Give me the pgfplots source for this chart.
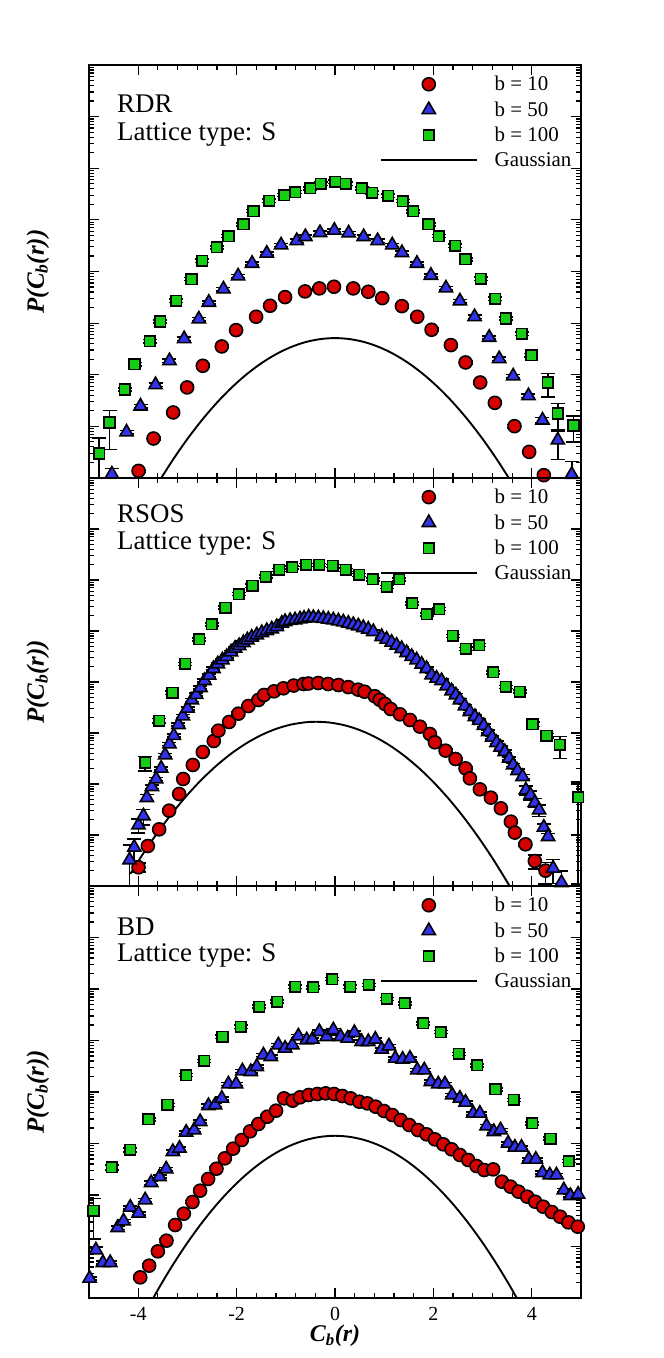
\documentclass[border=0pt]{standalone}
\usepackage{fontspec}
\setmainfont{Liberation Serif}
\usepackage{pgfplots}
\usepackage{pgfplotstable}
\pgfplotsset{compat=1.18}
\definecolor{cred}{RGB}{215,0,0}
\definecolor{cblue}{RGB}{50,50,235}
\definecolor{cgreen}{RGB}{20,205,20}

% ---------- RDR ----------
\pgfplotstableread{
x L r
-3.993 -7.862 0.07
-3.689 -7.235 0.07
-3.289 -6.731 0.07
-3.005 -6.246 0.07
-2.687 -5.827 0.07
-2.301 -5.452 0.07
-2.010 -5.136 0.07
-1.604 -4.877 0.07
-1.320 -4.664 0.07
-1.015 -4.496 0.07
-0.609 -4.386 0.07
-0.318 -4.328 0.07
-0.020 -4.296 0.07
0.372 -4.328 0.07
0.677 -4.393 0.07
0.961 -4.516 0.07
1.360 -4.671 0.07
1.672 -4.877 0.07
1.963 -5.129 0.07
2.355 -5.426 0.07
2.653 -5.762 0.07
2.951 -6.150 0.07
3.249 -6.544 0.07
3.648 -6.996 0.07
3.946 -7.494 0.07
4.244 -7.946 0.07
}\rdrA
\pgfplotstableread{
x L r
-4.535 -7.926 0.29
-4.237 -7.112 0.07
-3.953 -6.609 0.07
-3.648 -6.195 0.07
-3.364 -5.730 0.07
-3.066 -5.304 0.07
-2.768 -4.922 0.07
-2.565 -4.599 0.07
-2.267 -4.341 0.07
-1.970 -4.089 0.07
-1.685 -3.844 0.07
-1.387 -3.649 0.07
-1.096 -3.488 0.07
-0.778 -3.405 0.07
-0.602 -3.327 0.07
-0.305 -3.249 0.07
-0.014 -3.204 0.07
0.277 -3.256 0.07
0.582 -3.327 0.07
0.866 -3.405 0.07
1.164 -3.488 0.07
1.360 -3.637 0.07
1.665 -3.844 0.07
1.949 -4.076 0.07
2.254 -4.322 0.07
2.538 -4.574 0.07
2.836 -4.877 0.07
3.134 -5.277 0.07
3.337 -5.691 0.07
3.621 -6.027 0.07
3.932 -6.408 0.07
4.217 -6.880 0.12
4.528 -7.267 0.58
4.812 -7.932 0.78
}\rdrB
\pgfplotstableread{
x L r
-4.792 -7.525 0.98
-4.582 -6.925 0.70
-4.271 -6.285 0.07
-4.074 -5.795 0.07
-3.763 -5.349 0.07
-3.553 -4.967 0.07
-3.228 -4.567 0.07
-2.917 -4.147 0.07
-2.700 -3.792 0.07
-2.403 -3.533 0.07
-2.166 -3.314 0.07
-1.861 -3.088 0.07
-1.658 -2.829 0.07
-1.340 -2.629 0.07
-1.029 -2.519 0.07
-0.812 -2.461 0.07
-0.508 -2.390 0.07
-0.291 -2.300 0.07
0.007 -2.261 0.07
0.223 -2.300 0.07
0.548 -2.390 0.07
0.758 -2.474 0.07
1.083 -2.532 0.07
1.374 -2.636 0.07
1.591 -2.836 0.07
1.902 -3.088 0.07
2.112 -3.314 0.07
2.443 -3.502 0.07
2.653 -3.766 0.07
2.964 -4.141 0.07
3.255 -4.528 0.07
3.472 -4.910 0.07
3.797 -5.207 0.07
3.993 -5.620 0.07
4.325 -6.150 0.48
4.528 -6.750 0.55
4.846 -6.983 0.52
}\rdrC
\pgfplotstableread{
x L
-3.6 -8.104
-3.3 -7.655
-3.0 -7.244
-2.7 -6.873
-2.4 -6.541
-2.1 -6.248
-1.8 -5.994
-1.5 -5.779
-1.2 -5.603
-0.9 -5.466
-0.6 -5.368
-0.3 -5.310
0.0 -5.290
0.3 -5.310
0.6 -5.368
0.9 -5.466
1.2 -5.603
1.5 -5.779
1.8 -5.994
2.1 -6.248
2.4 -6.541
2.7 -6.873
3.0 -7.244
3.3 -7.655
3.6 -8.104
}\rdrG

% ---------- RSOS ----------
\pgfplotstableread{
x L r
-3.993 -7.634 0.20
-3.804 -7.216 0.07
-3.574 -6.889 0.07
-3.371 -6.523 0.07
-3.168 -6.196 0.07
-3.086 -5.902 0.07
-2.890 -5.627 0.07
-2.687 -5.373 0.07
-2.464 -5.157 0.07
-2.369 -4.954 0.07
-2.152 -4.784 0.07
-1.963 -4.621 0.07
-1.760 -4.471 0.07
-1.557 -4.353 0.07
-1.442 -4.255 0.07
-1.239 -4.183 0.07
-1.049 -4.124 0.07
-0.840 -4.070 0.07
-0.640 -4.040 0.07
-0.540 -4.030 0.07
-0.340 -4.020 0.07
-0.140 -4.040 0.07
0.070 -4.060 0.07
0.270 -4.100 0.07
0.470 -4.150 0.07
0.600 -4.190 0.07
0.810 -4.280 0.07
0.910 -4.350 0.07
1.015 -4.431 0.07
1.130 -4.529 0.07
1.320 -4.634 0.07
1.523 -4.745 0.07
1.726 -4.876 0.07
1.929 -5.020 0.07
2.030 -5.183 0.07
2.247 -5.346 0.07
2.450 -5.510 0.07
2.653 -5.693 0.07
2.741 -5.889 0.07
2.944 -6.105 0.07
3.168 -6.268 0.07
3.371 -6.477 0.07
3.574 -6.739 0.07
3.655 -6.954 0.07
3.871 -7.183 0.07
4.061 -7.510 0.30
4.278 -7.699 0.45
}\rsosA
\pgfplotstableread{
x L r
-4.176 -7.490 0.98
-4.081 -7.242 0.45
-3.994 -6.804 0.30
-3.893 -6.627 0.34
-3.824 -6.268 0.15
-3.722 -6.053 0.07
-3.635 -5.902 0.07
-3.533 -5.693 0.07
-3.452 -5.431 0.07
-3.364 -5.216 0.07
-3.276 -5.052 0.07
-3.181 -4.837 0.07
-3.093 -4.667 0.07
-2.998 -4.516 0.07
-2.910 -4.353 0.07
-2.822 -4.248 0.07
-2.734 -4.111 0.07
-2.653 -3.974 0.07
-2.558 -3.869 0.07
-2.470 -3.739 0.07
-2.382 -3.647 0.07
-2.288 -3.569 0.07
-2.200 -3.503 0.07
-2.112 -3.412 0.07
-2.030 -3.340 0.07
-1.949 -3.288 0.07
-1.862 -3.229 0.07
-1.781 -3.176 0.07
-1.692 -3.124 0.07
-1.590 -3.078 0.07
-1.488 -3.033 0.07
-1.387 -2.994 0.07
-1.285 -2.961 0.07
-1.184 -2.916 0.07
-1.082 -2.850 0.07
-1.015 -2.817 0.07
-0.914 -2.797 0.07
-0.812 -2.784 0.07
-0.711 -2.765 0.07
-0.629 -2.752 0.07
-0.535 -2.732 0.07
-0.440 -2.739 0.07
-0.338 -2.745 0.07
-0.237 -2.758 0.07
-0.136 -2.771 0.07
-0.034 -2.784 0.07
0.068 -2.804 0.07
0.169 -2.824 0.07
0.271 -2.850 0.07
0.372 -2.876 0.07
0.474 -2.902 0.07
0.575 -2.935 0.07
0.677 -2.967 0.07
0.778 -3.013 0.07
0.948 -3.111 0.07
1.049 -3.163 0.07
1.151 -3.222 0.07
1.252 -3.281 0.07
1.354 -3.347 0.07
1.455 -3.425 0.07
1.557 -3.503 0.07
1.658 -3.569 0.07
1.760 -3.653 0.07
1.862 -3.739 0.07
1.963 -3.863 0.07
2.065 -3.928 0.07
2.166 -3.974 0.07
2.268 -4.078 0.07
2.369 -4.176 0.07
2.457 -4.255 0.07
2.538 -4.353 0.07
2.640 -4.471 0.07
2.741 -4.582 0.07
2.843 -4.680 0.07
2.930 -4.758 0.07
3.025 -4.856 0.07
3.113 -4.974 0.07
3.194 -5.085 0.07
3.283 -5.190 0.07
3.364 -5.281 0.07
3.452 -5.366 0.07
3.540 -5.497 0.07
3.621 -5.627 0.07
3.709 -5.739 0.07
3.811 -5.857 0.10
3.878 -6.118 0.20
3.973 -6.216 0.20
4.061 -6.366 0.20
4.148 -6.510 0.25
4.244 -6.850 0.15
4.331 -7.033 0.15
4.433 -7.653 0.50
4.603 -7.935 0.70
}\rsosB
\pgfplotstableread{
x L r
-3.858 -5.582 0.32
-3.574 -4.759 0.10
-3.304 -4.210 0.07
-3.046 -3.647 0.07
-2.761 -3.163 0.07
-2.504 -2.869 0.07
-2.227 -2.543 0.07
-1.955 -2.275 0.07
-1.679 -2.112 0.07
-1.407 -1.935 0.07
-1.137 -1.804 0.07
-0.867 -1.751 0.07
-0.589 -1.706 0.07
-0.319 -1.706 0.07
-0.047 -1.725 0.07
0.217 -1.804 0.07
0.493 -1.902 0.07
0.765 -1.986 0.07
1.050 -2.137 0.07
1.306 -1.986 0.07
1.570 -2.457 0.07
1.862 -2.673 0.07
2.118 -2.569 0.07
2.390 -3.098 0.07
2.660 -3.353 0.07
2.930 -3.275 0.07
3.214 -3.810 0.07
3.472 -4.098 0.07
3.756 -4.190 0.07
4.014 -4.829 0.10
4.299 -5.053 0.10
4.569 -5.235 0.46
4.940 -6.261 0.98
}\rsosC
\pgfplotstableread{
x L
-4.16 -7.762
-3.9 -7.366
-3.6 -6.944
-3.3 -6.560
-3.0 -6.213
-2.7 -5.903
-2.4 -5.632
-2.1 -5.397
-1.8 -5.201
-1.5 -5.042
-1.2 -4.920
-0.9 -4.836
-0.6 -4.790
-0.38 -4.780
-0.1 -4.796
0.2 -4.850
0.5 -4.942
0.8 -5.071
1.1 -5.237
1.4 -5.441
1.7 -5.683
2.0 -5.962
2.3 -6.279
2.6 -6.633
2.9 -7.025
3.2 -7.455
3.5 -7.922
3.7 -8.254
}\rsosG

% ---------- BD ----------
\pgfplotstableread{
x L r
-3.959 -7.599 0.07
-3.777 -7.372 0.07
-3.601 -7.094 0.07
-3.425 -6.887 0.07
-3.249 -6.583 0.07
-3.073 -6.363 0.07
-2.897 -6.136 0.07
-2.741 -5.916 0.07
-2.579 -5.689 0.07
-2.409 -5.489 0.07
-2.240 -5.288 0.07
-2.071 -5.100 0.07
-1.895 -4.932 0.07
-1.726 -4.764 0.07
-1.557 -4.621 0.07
-1.374 -4.479 0.07
-1.198 -4.363 0.07
-1.036 -4.123 0.07
-0.860 -4.168 0.07
-0.711 -4.103 0.07
-0.535 -4.058 0.07
-0.359 -4.039 0.07
-0.190 -4.026 0.07
-0.020 -4.039 0.07
0.149 -4.078 0.07
0.318 -4.123 0.07
0.494 -4.188 0.07
0.657 -4.220 0.07
0.826 -4.285 0.07
0.995 -4.369 0.07
1.164 -4.447 0.07
1.333 -4.544 0.07
1.509 -4.641 0.07
1.685 -4.738 0.07
1.861 -4.822 0.07
2.030 -4.919 0.07
2.200 -5.016 0.07
2.369 -5.113 0.07
2.538 -5.223 0.07
2.707 -5.320 0.07
2.876 -5.437 0.07
3.032 -5.515 0.07
3.215 -5.502 0.07
3.391 -5.741 0.07
3.567 -5.838 0.07
3.729 -5.935 0.07
3.905 -6.032 0.07
4.068 -6.130 0.07
4.230 -6.227 0.07
4.406 -6.330 0.07
4.575 -6.421 0.07
4.744 -6.531 0.07
4.934 -6.615 0.07
}\bdA
\pgfplotstableread{
x L r
-4.988 -7.618 0.07
-4.860 -7.068 0.15
-4.717 -7.314 0.07
-4.569 -7.314 0.07
-4.420 -6.635 0.07
-4.298 -6.505 0.07
-4.162 -6.239 0.07
-3.993 -6.356 0.07
-3.858 -6.097 0.07
-3.736 -5.761 0.07
-3.567 -5.644 0.07
-3.431 -5.495 0.07
-3.296 -5.159 0.07
-3.161 -5.094 0.07
-3.025 -4.783 0.07
-2.863 -4.738 0.07
-2.741 -4.576 0.07
-2.572 -4.266 0.07
-2.437 -4.252 0.07
-2.301 -4.123 0.07
-2.166 -3.845 0.07
-2.010 -3.845 0.07
-1.882 -3.592 0.07
-1.712 -3.605 0.07
-1.591 -3.508 0.07
-1.455 -3.282 0.07
-1.306 -3.314 0.07
-1.151 -3.087 0.07
-1.015 -3.152 0.07
-0.866 -3.087 0.07
-0.745 -2.913 0.07
-0.575 -2.990 0.07
-0.460 -2.977 0.07
-0.318 -2.829 0.07
-0.169 -2.926 0.07
-0.034 -2.796 0.07
0.115 -2.926 0.07
0.257 -2.958 0.07
0.393 -2.848 0.07
0.541 -3.023 0.07
0.677 -3.023 0.07
0.819 -2.977 0.07
0.948 -3.172 0.07
1.096 -3.107 0.07
1.225 -3.346 0.07
1.374 -3.365 0.07
1.523 -3.346 0.07
1.672 -3.573 0.07
1.814 -3.573 0.07
1.949 -3.799 0.07
2.098 -3.845 0.07
2.234 -3.845 0.07
2.382 -4.058 0.07
2.538 -4.123 0.07
2.653 -4.200 0.07
2.809 -4.414 0.07
2.944 -4.414 0.07
3.080 -4.660 0.07
3.228 -4.770 0.07
3.364 -4.738 0.07
3.519 -4.996 0.07
3.655 -5.074 0.07
3.790 -5.074 0.07
3.939 -5.307 0.07
4.081 -5.307 0.07
4.217 -5.566 0.07
4.365 -5.612 0.07
4.501 -5.612 0.07
4.650 -5.903 0.07
4.785 -6.013 0.07
4.941 -5.987 0.07
}\bdB
\pgfplotstableread{
x L r
-4.907 -6.305 0.72
-4.535 -5.463 0.10
-4.162 -5.126 0.08
-3.790 -4.531 0.07
-3.404 -4.252 0.07
-3.025 -3.670 0.07
-2.660 -3.398 0.07
-2.288 -2.926 0.07
-1.915 -2.732 0.07
-1.543 -2.343 0.07
-1.178 -2.246 0.07
-0.812 -1.955 0.07
-0.440 -1.968 0.07
-0.061 -1.806 0.07
0.311 -1.955 0.07
0.684 -1.922 0.07
1.049 -2.194 0.07
1.421 -2.278 0.07
1.794 -2.666 0.07
2.152 -2.835 0.07
2.518 -3.262 0.07
2.890 -3.482 0.07
3.262 -3.948 0.07
3.635 -4.155 0.07
4.007 -4.608 0.07
4.379 -4.906 0.07
4.751 -5.340 0.07
}\bdC
\pgfplotstableread{
x L
-3.9 -8.360
-3.6 -7.841
-3.3 -7.363
-3.0 -6.927
-2.7 -6.533
-2.4 -6.179
-2.1 -5.868
-1.8 -5.598
-1.5 -5.369
-1.2 -5.182
-0.9 -5.037
-0.6 -4.933
-0.3 -4.871
0.0 -4.850
0.3 -4.871
0.6 -4.933
0.9 -5.037
1.2 -5.182
1.5 -5.369
1.8 -5.598
2.1 -5.868
2.4 -6.179
2.7 -6.533
3.0 -6.927
3.3 -7.363
3.6 -7.841
3.9 -8.360
}\bdG

\tikzset{ttl/.style={anchor=base west, inner sep=0pt, font=\fontsize{27}{32}\selectfont}}
\pgfplotsset{
  legend image code/.code={\draw[mark repeat=2,mark phase=2,#1]
      plot coordinates {(0bp,0bp) (48bp,0bp) (96bp,0bp)};},
}
\pgfplotsset{
  panel/.style={
    scale only axis, width=492bp,
    xmin=-5, xmax=5, ymin=1e-8, ymax=1,
    xtick={-4,-2,0,2,4}, minor x tick num=4,
    yticklabels={},
    axis line style={line width=2.3bp},
    major tick length=10bp, minor tick length=5bp,
    tick align=inside,
    tick style={black, line width=1.2bp},
    tick label style={font=\fontsize{20}{24}\selectfont},
    xticklabel style={yshift=-6bp},
    ylabel={\bfseries\itshape P(C\textsubscript{b}(r))},
    ylabel style={at={(axis description cs:-0.104,0.5)}, anchor=center,
      font=\fontsize{25}{30}\selectfont},
    legend style={draw=none, fill=none, at={(rel axis cs:0.985,0.978)},
      anchor=north east, inner sep=0pt, row sep=5.5bp, column sep=15bp,
      font=\fontsize{21}{25}\selectfont},
    legend cell align=left,
  },
  sA/.style={only marks, mark=*, mark size=6.5bp,
    mark options={fill=cred, draw=black, line width=1.6bp}},
  sB/.style={only marks, mark=triangle*, mark size=7.6bp,
    mark options={fill=cblue, draw=black, line width=1.6bp}},
  sC/.style={only marks, mark=square*, mark size=5.3bp,
    mark options={fill=cgreen, draw=black, line width=1.6bp}},
  sG/.style={black, line width=1.9bp, mark=none, smooth},
}

\newcommand\series[3]{%
  \addplot[forget plot, draw=none, mark=none,
    error bars/.cd, y dir=both, y explicit,
    error bar style={draw=black, solid, line width=1.6bp},
    error mark options={rotate=90, draw=black, solid, line width=1.6bp, mark size=7bp}]
    table[x=x, y expr=10^(\thisrow{L}),
    y error expr=\thisrow{r}*10^(\thisrow{L})] {#1};
  \addplot[#2] table[x=x, y expr=10^(\thisrow{L})] {#1};
  \addlegendentry{#3}
}
\newcommand\gauss[1]{%
  \addplot[sG] table[x=x, y expr=10^(\thisrow{L})] {#1};
  \addlegendentry{Gaussian}
}

\begin{document}
\begin{tikzpicture}[x=1bp,y=1bp]
\useasboundingbox (0,0) rectangle (664,1358);

% top panel
\begin{axis}[ymode=log, panel, height=413bp, at={(89bp,880bp)}, anchor=south west, xticklabels={}]
\series{\rdrA}{sA}{b = 10}
\series{\rdrB}{sB}{b = 50}
\series{\rdrC}{sC}{b = 100}
\gauss{\rdrG}
\node[ttl] at (rel axis cs:0.057,0.884) {RDR};
\node[ttl] at (rel axis cs:0.057,0.816) {Lattice type: S};
\end{axis}

% middle panel
\begin{axis}[ymode=log, panel, height=408bp, at={(89bp,472bp)}, anchor=south west, xticklabels={}]
\series{\rsosA}{sA}{b = 10}
\series{\rsosB}{sB}{b = 50}
\series{\rsosC}{sC}{b = 100}
\gauss{\rsosG}
\node[ttl] at (rel axis cs:0.057,0.892) {RSOS};
\node[ttl] at (rel axis cs:0.057,0.824) {Lattice type: S};
\end{axis}

% bottom panel
\begin{axis}[ymode=log, panel, height=412bp, at={(89bp,60bp)}, anchor=south west,
  xticklabels={-4,-2,0,2,4},
  xlabel={\bfseries\itshape C\textsubscript{b}(r)},
  xlabel style={at={(axis description cs:0.5,-0.092)}, anchor=center,
    font=\fontsize{24}{28}\selectfont}]
\series{\bdA}{sA}{b = 10}
\series{\bdB}{sB}{b = 50}
\series{\bdC}{sC}{b = 100}
\gauss{\bdG}
\node[ttl] at (rel axis cs:0.057,0.881) {BD};
\node[ttl] at (rel axis cs:0.057,0.816) {Lattice type: S};
\end{axis}
\end{tikzpicture}
\end{document}
